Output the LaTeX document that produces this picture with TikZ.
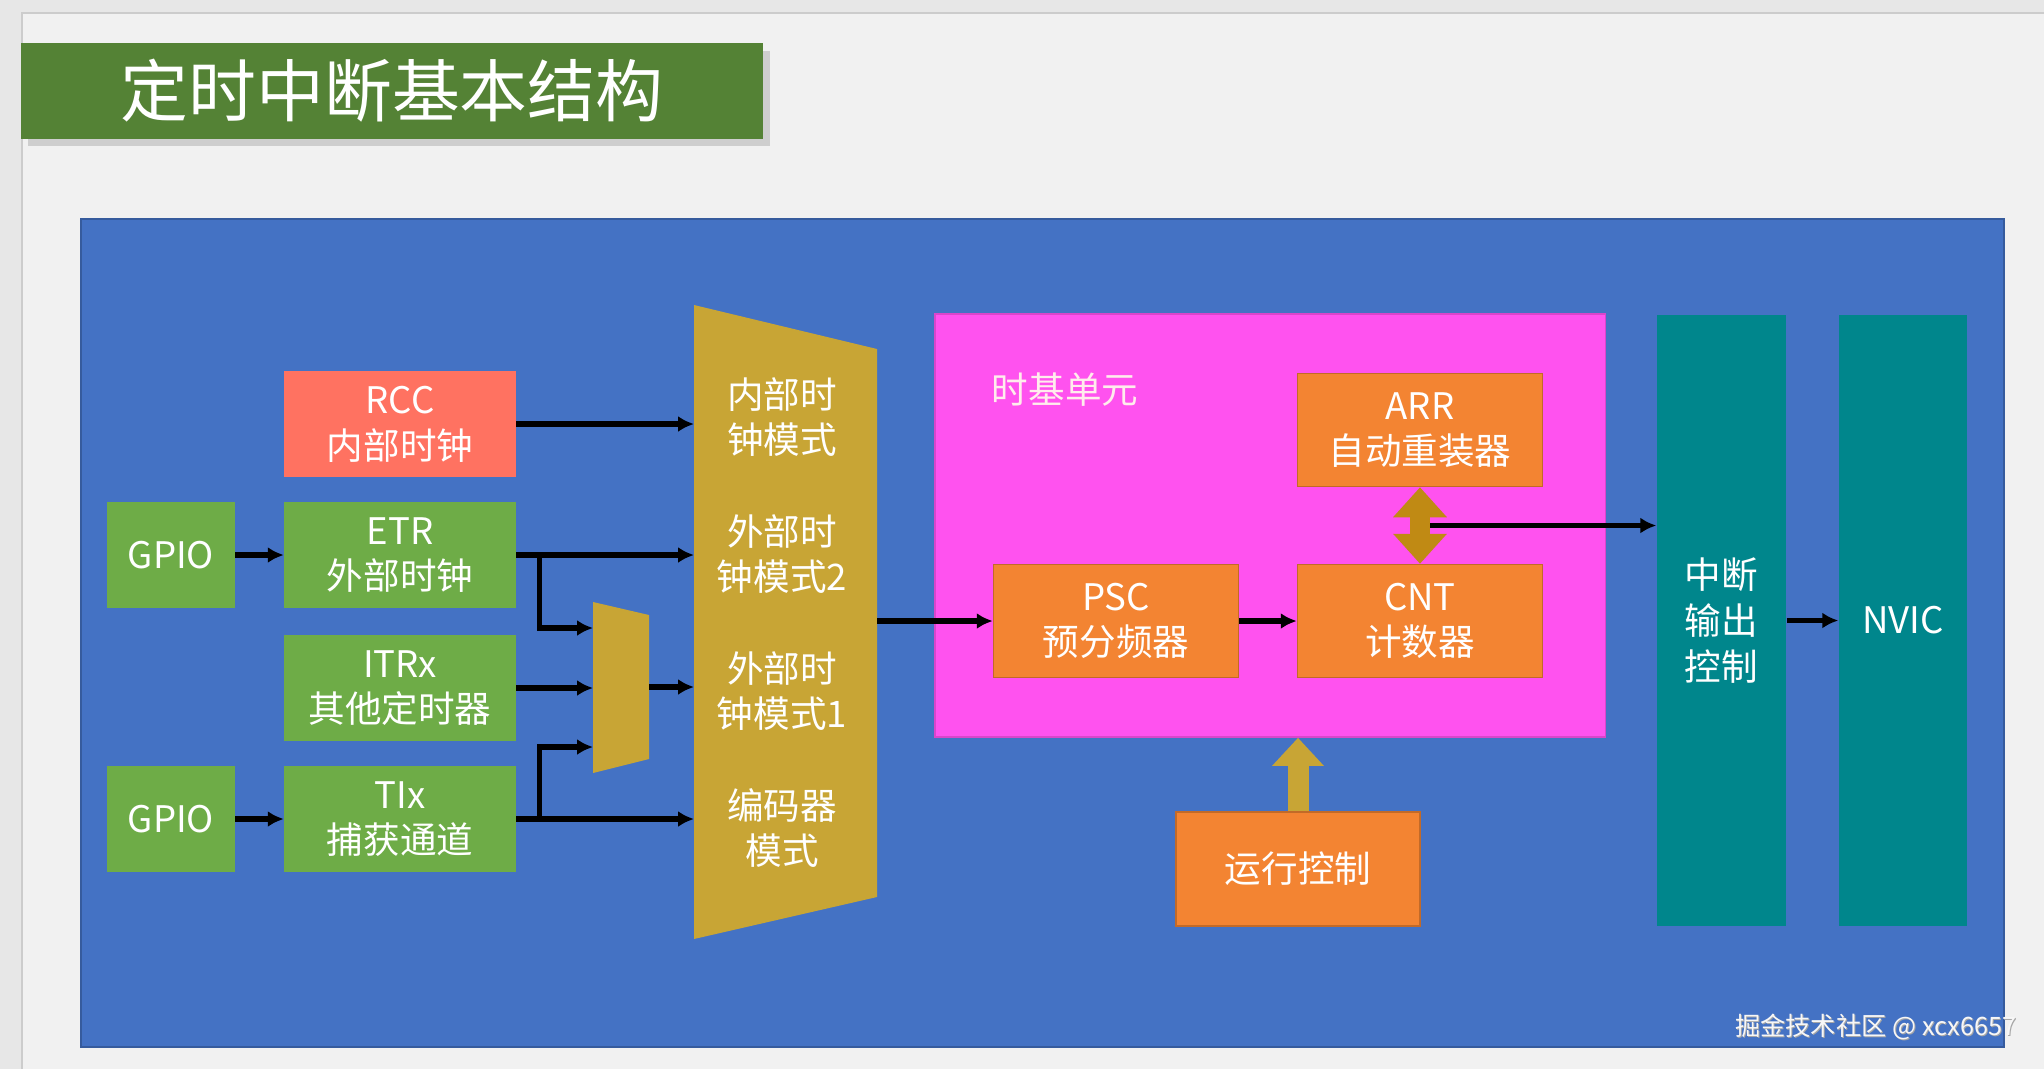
\documentclass[tikz,border=0pt]{standalone}
\usepackage{fontspec}
\setmainfont{Noto Sans CJK SC}
\usepackage{xcolor}
\usepackage{tikz}
\usetikzlibrary{calc,arrows.meta,shadows}

\definecolor{pagegray}{HTML}{E7E7E7}
\definecolor{slidegray}{HTML}{F1F1F1}
\definecolor{titlegreen}{HTML}{548235}
\definecolor{panelblue}{HTML}{4472C4}
\definecolor{boxgreen}{HTML}{6EAC47}
\definecolor{rccred}{HTML}{FF7261}
\definecolor{muxgold}{HTML}{C8A535}
\definecolor{tbpink}{HTML}{FF52EF}
\definecolor{unitorange}{HTML}{F38432}
\definecolor{irqteal}{HTML}{00868C}
\definecolor{fatgold}{HTML}{C08A14}

\newcommand{\drawMux}[7]{% name, x left, x right, left top/bottom y, right top/bottom y
  \fill[muxgold] (#2,#4) -- (#3,#6) -- (#3,#7) -- (#2,#5) -- cycle;
  \coordinate (#1-in) at (#2,{(#4+#5)/2});
  \coordinate (#1-out) at (#3,{(#6+#7)/2});
}

\begin{document}
\begin{tikzpicture}[x=0.01cm,y=-0.01cm,>={Latex[length=4.5pt,width=4.5pt]},
  txt/.style={font=\fontsize{10.4pt}{13pt}\selectfont,align=center,text=white,inner sep=0pt},
  block/.style={txt,minimum width=2.31cm,minimum height=1.05cm},
  inbox/.style={block,fill=boxgreen},
  unit/.style={block,fill=unitorange,draw=unitorange!80!black,line width=0.4pt,
    minimum width=2.45cm,minimum height=1.13cm},
  tall/.style={txt,fill=irqteal,minimum width=1.29cm,minimum height=6.11cm},
  wire/.style={line width=1.5pt,->},
  fatarrow/.style={line width=0.21cm,-{Triangle[width=0.5cm,length=0.28cm]}},
  fatboth/.style={line width=0.2cm,{Triangle[width=0.52cm,length=0.3cm]}-{Triangle[width=0.52cm,length=0.3cm]}},
  marktxt/.style={txt,anchor=east,font=\fontsize{7.2pt}{8pt}\selectfont}]
\useasboundingbox (0,0) rectangle (2044,1069);

% Page and panel
\fill[pagegray] (0,0) rectangle (2044,1069);
\draw[fill=slidegray,draw=gray!40] (22,13) rectangle (2050,1075);
\node[txt,fill=titlegreen,minimum width=7.41cm,minimum height=0.95cm,
  font=\fontsize{19.3pt}{22pt}\selectfont,
  drop shadow={opacity=0.3,shadow xshift=2pt,shadow yshift=-2pt}] (title) at (392,91) {定时中断基本结构};
\draw[fill=panelblue,draw=panelblue!80!black,line width=0.5pt] (81,219) rectangle (2004,1047);

% Inputs
\node[block,fill=rccred] (rcc) at (400,424) {RCC\\内部时钟};
\node[inbox] (etr) at (400,555) {ETR\\外部时钟};
\node[inbox] (itr) at (400,688) {ITRx\\其他定时器};
\node[inbox] (tix) at (400,819) {TIx\\捕获通道};
\node[inbox,minimum width=1.27cm] (gpioa) at (171,555) {GPIO};
\node[inbox,minimum width=1.27cm] (gpiob) at (171,819) {GPIO};

% Mode selectors
\drawMux{sm}{593}{649}{602}{773}{615}{759}
\drawMux{bm}{694}{877}{305}{939}{349}{897}
\node[txt] (mint) at (782,417) {内部时\\钟模式};
\node[txt] (mext2) at (782,554) {外部时\\钟模式2};
\node[txt] (mext1) at (782,691) {外部时\\钟模式1};
\node[txt] (menc) at (782,828) {编码器\\模式};
\coordinate (smin1) at (593,628);
\coordinate (smin3) at (593,747);

% Time base unit
\node[fill=tbpink,draw=tbpink!85!black,line width=0.4pt,minimum width=6.70cm,minimum height=4.23cm,inner sep=0pt] (tbu) at (1270,525.5) {};
\node[txt,text=pink!30!white] (tbulbl) at (1065,390) {时基单元};
\node[unit] (arr) at (1420,430) {ARR\\自动重装器};
\node[unit] (psc) at (1116,621) {PSC\\预分频器};
\node[unit] (cnt) at (1420,621) {CNT\\计数器};
\node[unit,minimum width=2.44cm,minimum height=1.14cm] (run) at (1298,869) {运行控制};

% Outputs
\node[tall] (irqctl) at (1721.5,620.5) {中断\\输出\\控制};
\node[tall,minimum width=1.28cm] (nvic) at (1903,620.5) {NVIC};

\draw[wire] (gpioa) -- (etr);
\draw[wire] (gpiob) -- (tix);
\draw[wire] (rcc.east) -- (rcc.east -| bm-in);
\draw[wire] (etr.east) -- (etr.east -| bm-in);
\draw[wire] (tix.east) -- (tix.east -| bm-in);
\draw[wire] ([xshift=0.23cm]etr.east) |- (smin1);
\draw[wire] (itr.east) -- (itr.east -| sm-in);
\draw[wire] ([xshift=0.23cm]tix.east) |- (smin3);
\draw[wire] (sm-out) -- (sm-out -| bm-in);
\draw[wire] (psc.west -| bm-out) -- (psc.west);
\draw[wire] (psc) -- (cnt);
\coordinate (tap) at ($(arr.south)!0.5!(cnt.north)$);
\draw[wire] (tap) -- (tap -| irqctl.west);
\draw[fatboth,fatgold] (arr.south) -- (cnt.north);
\draw[fatarrow,muxgold] (run.north) -- (run.north |- tbu.south);
\draw[wire] (irqctl) -- (nvic);

% Watermark
\node[marktxt,text=gray!70] (marksh) at (2018,1028) {掘金技术社区 @ xcx6657};
\node[marktxt,text=white!94!gray] (mark) at (2017,1027) {掘金技术社区 @ xcx6657};

\end{tikzpicture}
\end{document}
